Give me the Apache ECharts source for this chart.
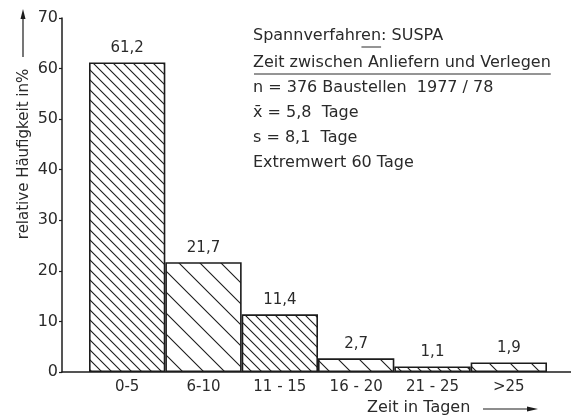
<!DOCTYPE html>
<html>
<head>
<meta charset="utf-8">
<style>
  html, body { margin: 0; padding: 0; background: #fff; }
  #chart { width: 571px; height: 416px; }
</style>
<script src="https://cdn.jsdelivr.net/npm/echarts@6/dist/echarts.min.js"></script>
</head>
<body>
<div id="chart"></div>
<script>
// Zeit zwischen Anliefern und Verlegen – relative Häufigkeit je Klasse
const categories = ['0-5', '6-10', '11 - 15', '16 - 20', '21 - 25', '>25'];
const shares = [61.2, 21.7, 11.4, 2.7, 1.1, 1.9];
const infoLines = [
  'Spannverfahren: SUSPA',
  'Zeit zwischen Anliefern und Verlegen',
  'n = 376 Baustellen  1977 / 78',
  'x\u0304 = 5,8  Tage',
  's = 8,1  Tage',
  'Extremwert 60 Tage'
];

const FONT = '"DejaVu Sans", "Liberation Sans", sans-serif';
const INK = '#1c1c1c';
const TEXT = '#2a2a2a';

// diagonal hatch tile ("\" direction), period p in px
function hatch(p, lw) {
  const c = document.createElement('canvas');
  c.width = p; c.height = p;
  const ctx = c.getContext('2d');
  ctx.fillStyle = '#fff';
  ctx.fillRect(0, 0, p, p);
  ctx.strokeStyle = INK;
  ctx.lineWidth = lw;
  ctx.beginPath();
  ctx.moveTo(-2, -2); ctx.lineTo(p + 2, p + 2);
  ctx.moveTo(-2, p - 2); ctx.lineTo(2, p + 2);
  ctx.moveTo(p - 2, -2); ctx.lineTo(p + 2, 2);
  ctx.stroke();
  return { image: c, repeat: 'repeat' };
}
const dense = hatch(10, 1.1);
const sparse = hatch(21, 1.1);

const barData = shares.map((v, i) => ({
  value: v,
  itemStyle: { color: i % 2 === 0 ? dense : sparse }
}));

function textWidth(str, size) {
  const ctx = document.createElement('canvas').getContext('2d');
  ctx.font = size + 'px ' + FONT;
  return ctx.measureText(str).width;
}

const INFO_X = 253, INFO_SIZE = 16;
const infoY = [36, 63, 88, 113, 138, 163];
const graphics = infoLines.map((t, i) => ({
  type: 'text',
  x: INFO_X,
  y: infoY[i],
  style: { text: t, font: INFO_SIZE + 'px ' + FONT, fill: TEXT, align: 'left', verticalAlign: 'middle' }
}));
// underline below "en" in the first line, full underline of the second line
const w1a = textWidth('Spannverfahr', INFO_SIZE);
const w1b = textWidth('Spannverfahren', INFO_SIZE);
const w2 = textWidth(infoLines[1], INFO_SIZE);
graphics.push(
  { type: 'line', shape: { x1: INFO_X + w1a, y1: infoY[0] + 11, x2: INFO_X + w1b, y2: infoY[0] + 11 }, style: { stroke: TEXT, lineWidth: 1 } },
  { type: 'line', shape: { x1: INFO_X + 1, y1: infoY[1] + 11, x2: INFO_X + w2, y2: infoY[1] + 11 }, style: { stroke: TEXT, lineWidth: 1 } }
);
// axis titles with arrows
graphics.push(
  {
    type: 'text', x: 24, y: 154, rotation: Math.PI / 2,
    style: { text: 'relative Häufigkeit in%', font: '15px ' + FONT, fill: TEXT, align: 'center', verticalAlign: 'middle' }
  },
  { type: 'line', shape: { x1: 23, y1: 57, x2: 23, y2: 16 }, style: { stroke: INK, lineWidth: 1.2 } },
  { type: 'polygon', shape: { points: [[23, 9], [20.5, 19], [25.5, 19]] }, style: { fill: INK } },
  {
    type: 'text', x: 367, y: 408,
    style: { text: 'Zeit in Tagen', font: '16px ' + FONT, fill: TEXT, align: 'left', verticalAlign: 'middle' }
  },
  { type: 'line', shape: { x1: 483, y1: 409, x2: 530, y2: 409 }, style: { stroke: INK, lineWidth: 1.2 } },
  { type: 'polygon', shape: { points: [[538, 409], [527, 406.5], [527, 411.5]] }, style: { fill: INK } }
);

const chart = echarts.init(document.getElementById('chart'), null, { renderer: 'canvas' });
chart.setOption({
  animation: false,
  backgroundColor: '#fff',
  grid: [
    { left: 62, right: 0, top: 18, bottom: 44 },
    { left: 89, right: 24, top: 18, bottom: 44 }
  ],
  xAxis: [
    {
      gridIndex: 0, type: 'value', min: 0, max: 1,
      axisLine: { show: true, lineStyle: { color: INK, width: 1.5 } },
      axisTick: { show: false }, axisLabel: { show: false }, splitLine: { show: false }
    },
    {
      gridIndex: 1, type: 'category', data: categories,
      axisLine: { show: false }, axisTick: { show: false },
      axisLabel: { color: TEXT, fontFamily: FONT, fontSize: 15, margin: 8 }
    }
  ],
  yAxis: [
    {
      gridIndex: 0, type: 'value', min: 0, max: 70, interval: 10,
      axisLine: { show: true, lineStyle: { color: INK, width: 1.5 } },
      axisTick: { show: true, length: 3, lineStyle: { color: INK, width: 1.2 } },
      axisLabel: { color: TEXT, fontFamily: FONT, fontSize: 16, margin: 4 },
      splitLine: { show: false }
    },
    {
      gridIndex: 1, type: 'value', min: 0, max: 70, show: false, splitLine: { show: false }
    }
  ],
  series: [{
    type: 'bar',
    xAxisIndex: 1, yAxisIndex: 1,
    data: barData,
    barCategoryGap: 0,
    itemStyle: { borderColor: INK, borderWidth: 1.6 },
    label: {
      show: true, position: 'top', distance: 7,
      color: TEXT, fontFamily: FONT, fontSize: 15,
      formatter: p => String(p.value).replace('.', ',')
    }
  }],
  graphic: graphics
});
</script>
</body>
</html>
